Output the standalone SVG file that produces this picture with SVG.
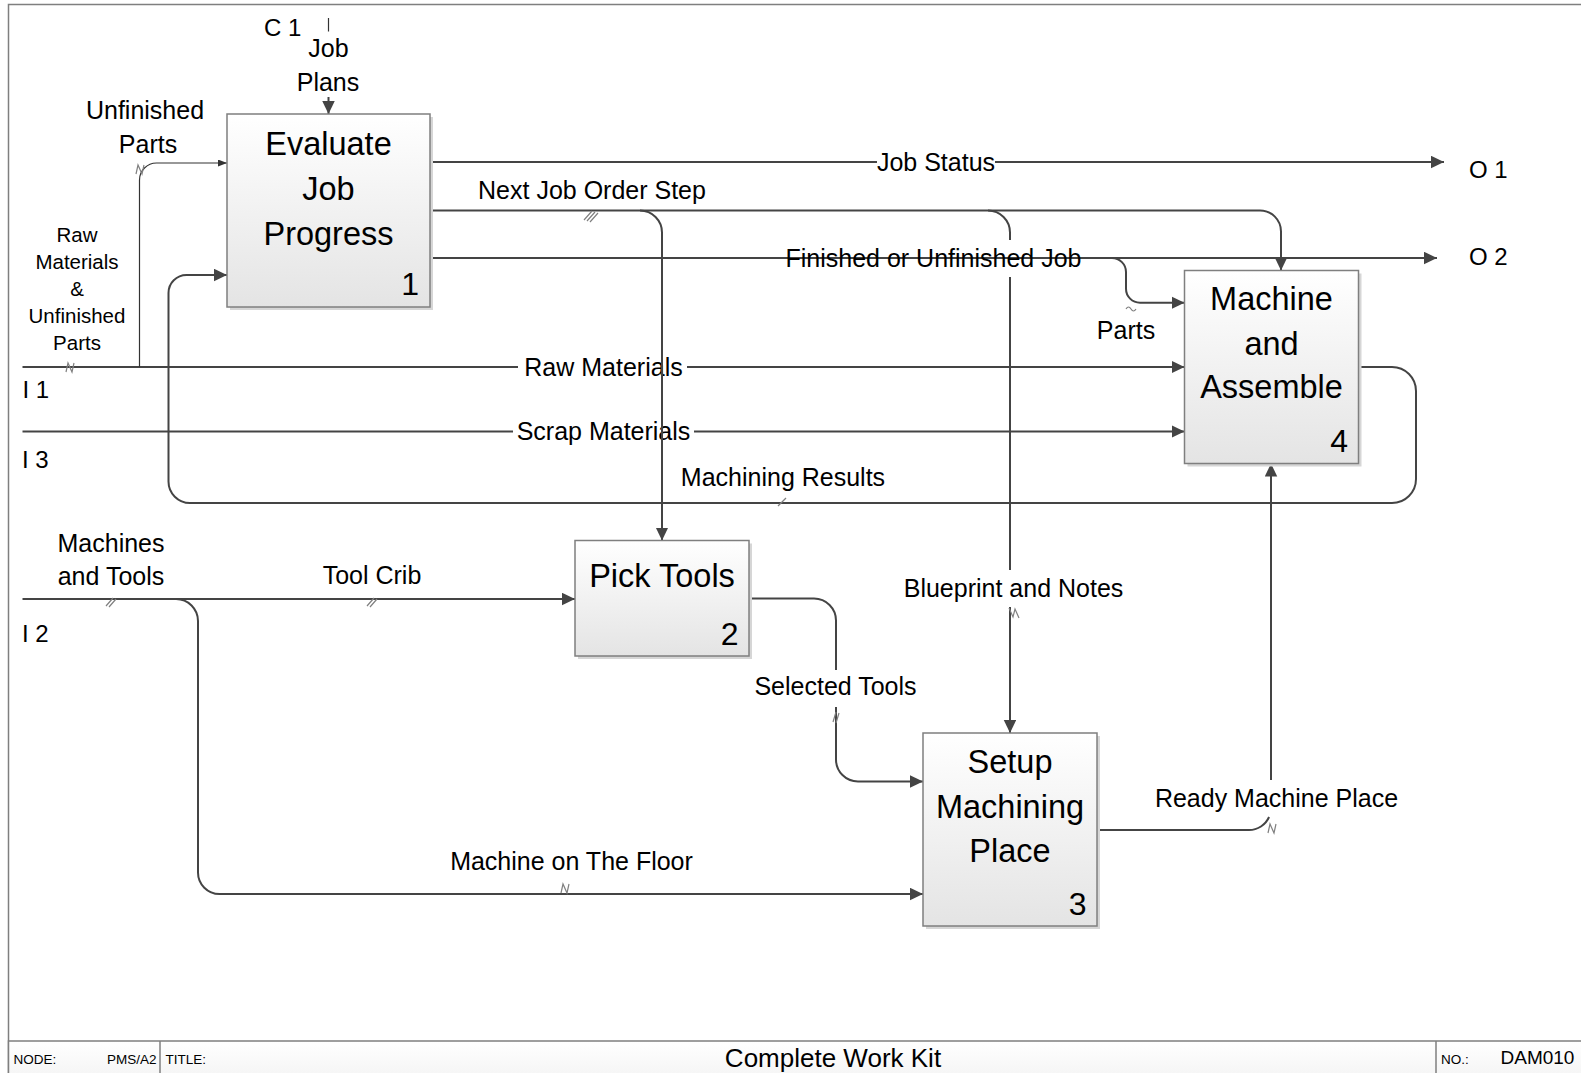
<svg xmlns="http://www.w3.org/2000/svg" width="1581" height="1073" viewBox="0 0 1581 1073">
<style>
text{font-family:"Liberation Sans",Arial,sans-serif;fill:#000}
.t{font-size:32.5px;text-anchor:middle}
.num{font-size:32px;text-anchor:end}
.lbl{font-size:25px;text-anchor:middle}
.sm{font-size:20.5px;text-anchor:middle}
.io{font-size:24px}
.ft{font-size:13.5px}
.ttl{font-size:26px;text-anchor:middle}
.no{font-size:19px}
.box{fill:url(#bg);stroke:#7f7f7f;stroke-width:1.5}
.shadow{fill:#d6d6d6}
.c{fill:none;stroke:#444;stroke-width:2}
.ct{fill:none;stroke:#333;stroke-width:1.2}
.tk{fill:none;stroke:#808080;stroke-width:1.2}
</style>
<defs>
<linearGradient id="bg" x1="0" y1="0" x2="0" y2="1">
<stop offset="0" stop-color="#ffffff"/>
<stop offset="1" stop-color="#e4e4e4"/>
</linearGradient>
<linearGradient id="fbg" x1="0" y1="0" x2="0" y2="1">
<stop offset="0" stop-color="#ffffff"/>
<stop offset="1" stop-color="#eeeeee"/>
</linearGradient>
<marker id="ah" markerUnits="userSpaceOnUse" markerWidth="14" markerHeight="13" refX="13" refY="6.25" orient="auto">
<path d="M0,0 L13,6.25 L0,12.5 z" fill="#444"/>
</marker>
<marker id="ahs" markerUnits="userSpaceOnUse" markerWidth="10" markerHeight="8" refX="9" refY="3.5" orient="auto">
<path d="M0,0 L9,3.5 L0,7 z" fill="#333"/>
</marker>
</defs>
<rect x="0" y="0" width="1581" height="1073" fill="#fff"/>
<g id="frame">
<rect x="8.5" y="4.5" width="1600" height="1100" fill="none" stroke="#7f7f7f" stroke-width="1.5"/>
<rect x="8.5" y="1041" width="1600" height="60" fill="url(#fbg)" stroke="#7f7f7f" stroke-width="1.5"/>
<line x1="160" y1="1041" x2="160" y2="1073" stroke="#7f7f7f" stroke-width="1.5"/>
<line x1="1436" y1="1041" x2="1436" y2="1073" stroke="#7f7f7f" stroke-width="1.5"/>
<text class="ft" x="13.5" y="1063.5">NODE:</text>
<text class="ft" x="156.5" y="1063.5" text-anchor="end">PMS/A2</text>
<text class="ft" x="165.5" y="1063.5">TITLE:</text>
<text class="ttl" x="833" y="1066.5">Complete Work Kit</text>
<text class="ft" x="1441" y="1063.5">NO.:</text>
<text class="no" x="1500.5" y="1064">DAM010</text>
</g>
<g id="connectors">
<path class="ct" d="M328.5,18 V31.5"/>
<path class="c" d="M328.5,97 V114" marker-end="url(#ah)"/>
<path class="c" d="M430,162 H877 M995,162 H1444" marker-end="url(#ah)"/>
<path class="c" d="M430,210.5 H640 A22,22 0 0 1 662,232.5 V540.5" marker-end="url(#ah)"/>
<path class="c" d="M640,210.5 H988 A22,22 0 0 1 1010,232.5 V240"/>
<path class="c" d="M1010,277 V570"/>
<path class="c" d="M1010,607 V733" marker-end="url(#ah)"/>
<path class="c" d="M988,210.5 H1260 A21,21 0 0 1 1281,231.5 V270.5" marker-end="url(#ah)"/>
<path class="c" d="M430,258 H1437" marker-end="url(#ah)"/>
<path class="c" d="M1112,258 A14,14 0 0 1 1126,272 V288.7 A14,14 0 0 0 1140,302.7 H1184.5" marker-end="url(#ah)"/>
<path class="c" d="M22.5,367 H518 M687,367 H1184.5" marker-end="url(#ah)"/>
<path class="ct" d="M139.5,367 V180 A17,17 0 0 1 156.5,163 H227" marker-end="url(#ahs)"/>
<path class="c" d="M22.5,431.5 H513 M694,431.5 H1184.5" marker-end="url(#ah)"/>
<path class="c" d="M1358.5,367 H1392 A24,24 0 0 1 1416,391 V479 A24,24 0 0 1 1392,503 H190 A21.5,21.5 0 0 1 168.5,481.5 V293 A18,18 0 0 1 186.5,275 H227" marker-end="url(#ah)"/>
<path class="c" d="M22.5,599 H575" marker-end="url(#ah)"/>
<path class="c" d="M176,599 A22,22 0 0 1 198,621 V872.5 A21.5,21.5 0 0 0 219.5,894 H923" marker-end="url(#ah)"/>
<path class="c" d="M749,598.5 H814 A22,22 0 0 1 836,620.5 V670"/>
<path class="c" d="M836,707 V759.5 A22,22 0 0 0 858,781.5 H923" marker-end="url(#ah)"/>
<path class="c" d="M1097,830 H1249 A22,22 0 0 0 1269.07,817"/>
<path class="c" d="M1271,780 V463.5" marker-end="url(#ah)"/>
<g id="label-ticks">
<path class="tk" d="M584,220 L592,211 M587,221 L595,212 M590,222 L598,213"/>
<path class="tk" d="M136,174 L138,165 L142,174 L144,165"/>
<path class="tk" d="M66,372 L68,363 L72,372 L74,363"/>
<path class="tk" d="M1126,309 Q1128.5,305 1131,309 Q1133.5,313 1136,309"/>
<path class="tk" d="M778,506 L786,498"/>
<path class="tk" d="M106,606 L113,598 M109,607 L116,599"/>
<path class="tk" d="M367,606 L374,598 M370,607 L377,599"/>
<path class="tk" d="M833,722 L836,712 M836,723 L839,713"/>
<path class="tk" d="M1009,608 L1013,617 L1015,609 L1019,618"/>
<path class="tk" d="M1268,833 L1270,824 L1274,833 L1276,824"/>
<path class="tk" d="M561,893 L563,884 L567,893 L569,884"/>
</g>
</g>
<g id="node1">
<rect class="shadow" x="230" y="117" width="203" height="193"/>
<rect class="box" x="227" y="114" width="203" height="193"/>
<text class="t" x="328.5" y="155">Evaluate</text>
<text class="t" x="328.5" y="200">Job</text>
<text class="t" x="328.5" y="245">Progress</text>
<text class="num" x="419" y="295">1</text>
</g>
<g id="node2">
<rect class="shadow" x="578" y="543.5" width="174" height="115.5"/>
<rect class="box" x="575" y="540.5" width="174" height="115.5"/>
<text class="t" x="662" y="587">Pick Tools</text>
<text class="num" x="738.5" y="645">2</text>
</g>
<g id="node3">
<rect class="shadow" x="926" y="736" width="174" height="193"/>
<rect class="box" x="923" y="733" width="174" height="193"/>
<text class="t" x="1010" y="773">Setup</text>
<text class="t" x="1010" y="818">Machining</text>
<text class="t" x="1010" y="862">Place</text>
<text class="num" x="1086.5" y="915">3</text>
</g>
<g id="node4">
<rect class="shadow" x="1187.5" y="273.5" width="174" height="193"/>
<rect class="box" x="1184.5" y="270.5" width="174" height="193"/>
<text class="t" x="1271.5" y="310">Machine</text>
<text class="t" x="1271.5" y="355">and</text>
<text class="t" x="1271.5" y="398">Assemble</text>
<text class="num" x="1348" y="452">4</text>
</g>
<g id="labels">
<text class="io" x="264" y="36">C 1</text>
<text class="lbl" x="328.5" y="57">Job</text>
<text class="lbl" x="328" y="90.5">Plans</text>
<text class="lbl" x="145" y="119">Unfinished</text>
<text class="lbl" x="148" y="153">Parts</text>
<text class="sm" x="77" y="242">Raw</text>
<text class="sm" x="77" y="268.5">Materials</text>
<text class="sm" x="77" y="295.5">&amp;</text>
<text class="sm" x="77" y="322.5">Unfinished</text>
<text class="sm" x="77" y="349.5">Parts</text>
<text class="io" x="22.5" y="398">I 1</text>
<text class="io" x="22" y="468">I 3</text>
<text class="io" x="22" y="641.5">I 2</text>
<text class="io" x="1469" y="177.5">O 1</text>
<text class="io" x="1469" y="265">O 2</text>
<text class="lbl" x="936" y="171">Job Status</text>
<text class="lbl" x="592" y="198.5">Next Job Order Step</text>
<text class="lbl" x="933.5" y="266.5">Finished or Unfinished Job</text>
<text class="lbl" x="1126" y="338.5">Parts</text>
<text class="lbl" x="603.5" y="375.5">Raw Materials</text>
<text class="lbl" x="603.5" y="440">Scrap Materials</text>
<text class="lbl" x="783" y="486">Machining Results</text>
<text class="lbl" x="111" y="551.5">Machines</text>
<text class="lbl" x="111" y="585">and Tools</text>
<text class="lbl" x="372" y="584">Tool Crib</text>
<text class="lbl" x="1013.5" y="597">Blueprint and Notes</text>
<text class="lbl" x="835.5" y="695">Selected Tools</text>
<text class="lbl" x="1276.5" y="806.5">Ready Machine Place</text>
<text class="lbl" x="571.5" y="869.5">Machine on The Floor</text>
</g>
<g id="overlays">
<path class="c" d="M662,355 V380 M662,420 V445"/>
</g>
</svg>
